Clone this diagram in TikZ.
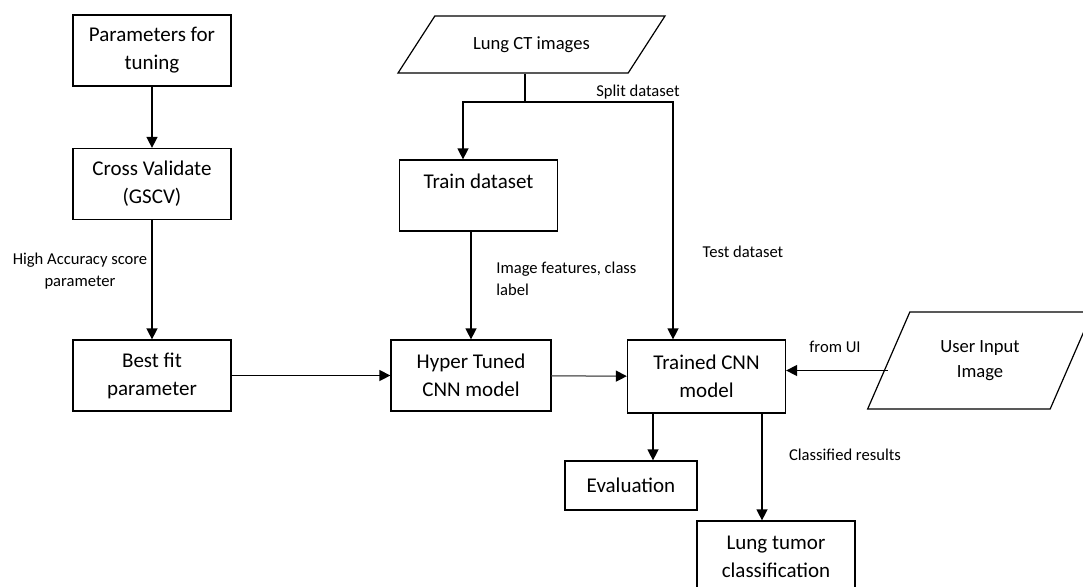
\documentclass[tikz,border=0pt]{standalone}
\usepackage{fontspec}
\setmainfont{Carlito}
\usepackage{tikz}
\usetikzlibrary{arrows.meta,positioning,shapes.geometric}

\begin{document}
\begin{tikzpicture}[
  x=0.5pt, y=-0.5pt,
  box/.style={draw, line width=0.65pt, align=center, minimum width=79pt, minimum height=35.5pt, inner sep=2pt, font=\fontsize{10.5}{14}\selectfont},
  data/.style={draw, line width=0.6pt, trapezium, trapezium stretches=true, align=center, inner sep=1pt, font=\fontsize{9.3}{12.5}\selectfont},
  note/.style={align=center, inner sep=0pt, font=\fontsize{8.3}{11}\selectfont},
  arrow/.style={-{Triangle[length=5.5pt, width=5.5pt]}, line width=0.75pt}
]
\useasboundingbox (0,0) rectangle (1083,586);

\node[box] (params) at (152,50.5) {Parameters for\\tuning};
\node[box] (cross) at (152,184) {Cross Validate\\(GSCV)};
\node[box] (bestfit) at (152,375.5) {Best fit\\parameter};
\node[data, trapezium left angle=41, trapezium right angle=139, minimum width=134.5pt, minimum height=28.5pt] (lungct) at (531.5,44.5) {Lung CT images};
\node[box] (train) at (478.5,195.5) {Train dataset\\~};
\node[box, minimum width=80pt] (hyper) at (471,375.5) {Hyper Tuned\\CNN model};
\node[box, minimum height=36.5pt] (trained) at (706.5,376.5) {Trained CNN\\model};
\node[data, trapezium left angle=60.4, trapezium right angle=119.6, minimum width=113pt, minimum height=48.5pt] (userin) at (980,360.5) {User Input\\Image};
\node[box, minimum width=66pt, minimum height=24.5pt] (eval) at (631,485.5) {Evaluation};
\node[box] (tumor) at (776,556.5) {Lung tumor\\classification};

\coordinate (split) at (525,102);
\draw[line width=0.75pt] (lungct.south -| split) -- (split);
\draw[arrow] (split) -| ([xshift=-7.75pt]train.north);
\draw[arrow] (split) -| ([xshift=-16.75pt]trained.north);
\node[note] (splitlbl) at (638,92) {Split dataset};

\draw[arrow] (params) -- (cross);
\draw[arrow] (cross) -- (bestfit);
\node[note] (acclbl) at (80,271) {High Accuracy score\\parameter};

\draw[arrow] (bestfit) -- (hyper);
\draw[arrow] (train.south -| hyper.north) -- (hyper.north);
\node[note, align=left, anchor=west] (featlbl) at (496,279) {Image features, class\\label};
\node[note] (testlbl) at (743,252) {Test dataset};

\draw[arrow, draw=black!55, -{Triangle[length=5.5pt, width=5.5pt, black]}] (hyper) -- (trained);
\draw[arrow] ([yshift=-5pt]userin.west) -- ([yshift=-5pt]userin.west -| trained.east);
\node[note] (uilbl) at (835,347) {from UI};

\draw[arrow] ([xshift=-26.75pt]trained.south) -- ([xshift=-26.75pt]trained.south |- eval.north);
\draw[arrow] ([xshift=27.75pt]trained.south) -- ([xshift=27.75pt]trained.south |- tumor.north);
\node[note] (classlbl) at (845,455) {Classified results};

\end{tikzpicture}
\end{document}
